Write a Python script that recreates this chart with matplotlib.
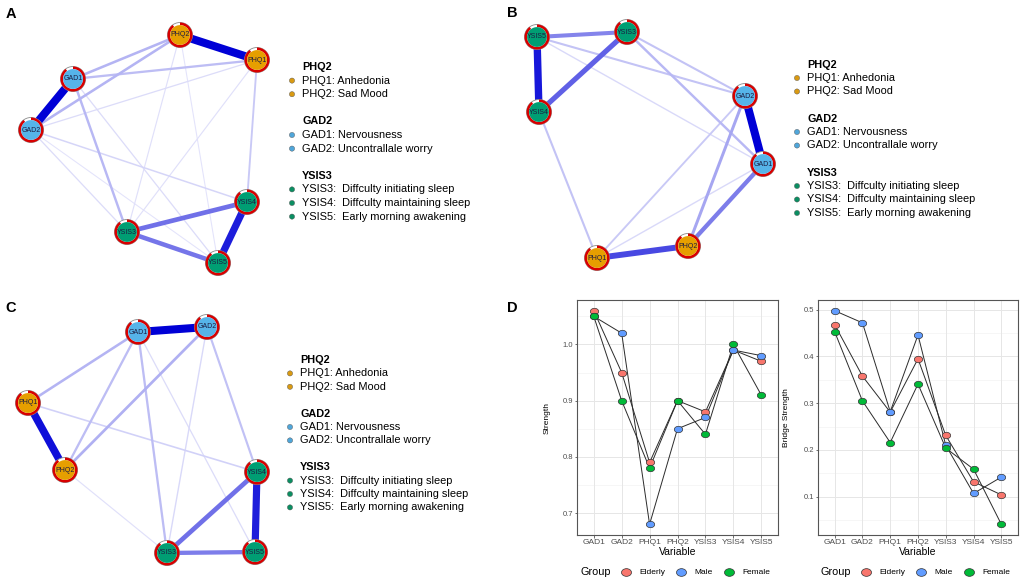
import matplotlib
matplotlib.use("Agg")
import matplotlib.pyplot as plt
from matplotlib.patches import Circle, Wedge
from matplotlib.path import Path
from matplotlib.transforms import Affine2D
import numpy as np

plt.rcParams['font.family'] = ['Liberation Sans', 'DejaVu Sans']

# ---------------- data ----------------
variables = ["GAD1", "GAD2", "PHQ1", "PHQ2", "YSIS3", "YSIS4", "YSIS5"]
groups = ["Elderly", "Male", "Female"]
group_colors = ["#F8766D", "#619CFF", "#00BA38"]

strength_elderly = [1.06, 0.95, 0.79, 0.90, 0.88, 0.99, 0.97]
strength_male = [1.05, 1.02, 0.68, 0.85, 0.87, 0.99, 0.98]
strength_female = [1.05, 0.90, 0.78, 0.90, 0.84, 1.00, 0.91]

bridge_elderly = [0.468, 0.358, 0.281, 0.395, 0.231, 0.132, 0.104]
bridge_male = [0.498, 0.472, 0.282, 0.446, 0.210, 0.107, 0.142]
bridge_female = [0.453, 0.305, 0.216, 0.341, 0.204, 0.159, 0.041]

node_group = {"PHQ1": "PHQ", "PHQ2": "PHQ", "GAD1": "GAD", "GAD2": "GAD",
              "YSIS3": "YSIS", "YSIS4": "YSIS", "YSIS5": "YSIS"}
group_fill = {"PHQ": "#E69F00", "GAD": "#56B4E9", "YSIS": "#009E73"}
group_dot = {"PHQ": "#D99A12", "GAD": "#4FA6DA", "YSIS": "#0B8E62"}
predictability = 0.9

legend_headers = ["PHQ2", "GAD2", "YSIS3"]
legend_items = [
    [("PHQ", "PHQ1: Anhedonia"), ("PHQ", "PHQ2: Sad Mood")],
    [("GAD", "GAD1: Nervousness"), ("GAD", "GAD2: Uncontrallale worry")],
    [("YSIS", "YSIS3:  Diffculty initiating sleep"),
     ("YSIS", "YSIS4:  Diffculty maintaining sleep"),
     ("YSIS", "YSIS5:  Early morning awakening")],
]

# network layouts (panel pixel space) and edge weights
layout_A = {"PHQ1": (257, 60), "PHQ2": (180, 35), "GAD1": (73, 79), "GAD2": (31, 130),
            "YSIS3": (127, 232), "YSIS4": (247, 202), "YSIS5": (218, 263)}
edges_A = [("PHQ1", "PHQ2", 1.0), ("GAD1", "GAD2", 1.0), ("YSIS4", "YSIS5", 0.9),
           ("YSIS3", "YSIS4", 0.6), ("YSIS3", "YSIS5", 0.58), ("GAD1", "PHQ2", 0.32),
           ("GAD2", "PHQ2", 0.32), ("GAD1", "PHQ1", 0.28), ("GAD2", "PHQ1", 0.12),
           ("GAD1", "YSIS3", 0.3), ("GAD1", "YSIS5", 0.12), ("GAD2", "YSIS4", 0.16),
           ("GAD2", "YSIS3", 0.12), ("GAD2", "YSIS5", 0.08), ("PHQ2", "YSIS3", 0.1),
           ("PHQ2", "YSIS5", 0.08), ("PHQ1", "YSIS4", 0.22), ("PHQ1", "YSIS3", 0.1)]

layout_B = {"YSIS5": (537, 37), "YSIS3": (627, 32), "YSIS4": (539, 112), "GAD2": (745, 96),
            "GAD1": (763, 164), "PHQ1": (597, 258), "PHQ2": (688, 246)}
edges_B = [("YSIS5", "YSIS4", 0.92), ("YSIS4", "YSIS3", 0.66), ("YSIS5", "YSIS3", 0.52),
           ("GAD2", "GAD1", 1.0), ("PHQ1", "PHQ2", 0.75), ("PHQ2", "GAD1", 0.55),
           ("PHQ2", "GAD2", 0.38), ("YSIS3", "GAD1", 0.3), ("YSIS3", "GAD2", 0.25),
           ("YSIS5", "GAD2", 0.25), ("YSIS5", "GAD1", 0.14), ("YSIS4", "PHQ1", 0.25),
           ("PHQ1", "GAD2", 0.22), ("PHQ1", "GAD1", 0.14)]

layout_C = {"GAD1": (138, 332), "GAD2": (207, 327), "PHQ1": (28, 403), "PHQ2": (65, 470),
            "YSIS4": (257, 472), "YSIS3": (167, 553), "YSIS5": (255, 552)}
edges_C = [("GAD1", "GAD2", 1.0), ("PHQ1", "PHQ2", 0.95), ("YSIS4", "YSIS5", 0.9),
           ("YSIS3", "YSIS4", 0.6), ("YSIS3", "YSIS5", 0.55), ("GAD1", "PHQ1", 0.32),
           ("GAD2", "PHQ2", 0.34), ("GAD1", "PHQ2", 0.28), ("GAD1", "YSIS3", 0.28),
           ("GAD2", "YSIS4", 0.26), ("GAD2", "YSIS3", 0.14), ("GAD1", "YSIS5", 0.12),
           ("PHQ1", "YSIS4", 0.18), ("PHQ2", "YSIS3", 0.1)]

# ---------------- figure ----------------
W, H = 1021, 587
fig = plt.figure(figsize=(W / 100, H / 100), dpi=100)
ov = fig.add_axes([0, 0, 1, 1])
ov.set_xlim(0, W)
ov.set_ylim(H, 0)
ov.axis('off')

BLUE = np.array([0.0, 0.0, 0.84])
WHITE = np.array([1.0, 1.0, 1.0])


def edge_style(w):
    a = 0.07 + 0.93 * w ** 1.25
    col = (1 - a) * WHITE + a * BLUE
    lw = 0.5 + 5.3 * w ** 1.2
    return tuple(col), lw


def draw_network(layout, edges):
    for n1, n2, w in sorted(edges, key=lambda e: e[2]):
        (x1, y1), (x2, y2) = layout[n1], layout[n2]
        col, lw = edge_style(w)
        ov.plot([x1, x2], [y1, y2], color=col, lw=lw, solid_capstyle='butt', zorder=1 + w)
    r = 12.5
    for name, (x, y) in layout.items():
        ov.add_patch(Circle((x, y), r, fc='white', ec='#8a8a8a', lw=0.6, zorder=5))
        ov.add_patch(Wedge((x, y), r, -90, -90 + predictability * 360, width=2.6,
                           fc='#D80000', ec='none', zorder=6))
        ov.add_patch(Circle((x, y), r - 2.6, fc=group_fill[node_group[name]], ec='none', zorder=7))
        ov.text(x, y, name, fontsize=5, color='#1b1b40', ha='center', va='center', zorder=8)


def draw_legend(xdot, y0, step):
    y = y0
    for hdr, items in zip(legend_headers, legend_items):
        ov.text(xdot + 10, y, hdr, fontsize=7.8, fontweight='bold', ha='left', va='center',
                color='black')
        y += step
        for g, txt in items:
            ov.add_patch(Circle((xdot, y), 2.6, fc=group_dot[g], ec='#555555', lw=0.3))
            ov.text(xdot + 10, y, txt, fontsize=7.9, ha='left', va='center', color='black')
            y += step
        y += step


draw_network(layout_A, edges_A)
draw_network(layout_B, edges_B)
draw_network(layout_C, edges_C)
draw_legend(292, 67, 13.6)
draw_legend(797, 64.5, 13.5)
draw_legend(290, 360, 13.4)

for lab, (x, y) in zip("ABCD", [(10.5, 14.5), (512.5, 13), (10.5, 308), (512.5, 308)]):
    ov.text(x, y, lab, fontsize=10.5, fontweight='bold', ha='center', va='center')

# ellipse marker (image is slightly stretched horizontally)
ell = Path.unit_circle().transformed(Affine2D().scale(1.3, 1.0))


def ggpanel(rect, series, ylabel, yticks, minor, ylab_x):
    ax = fig.add_axes(rect)
    x = np.arange(len(variables))
    allv = np.concatenate([np.asarray(s) for s in series])
    lo, hi = allv.min(), allv.max()
    pad = 0.05 * (hi - lo)
    ax.set_ylim(lo - pad, hi + pad)
    ax.set_xlim(-0.6, len(variables) - 0.4)
    for yv in minor:
        ax.axhline(yv, color='#F0F0F0', lw=0.4, zorder=0)
    for yv in yticks:
        ax.axhline(yv, color='#E6E6E6', lw=0.7, zorder=0)
    for xv in x:
        ax.axvline(xv, color='#E6E6E6', lw=0.7, zorder=0)
    for s in series:
        ax.plot(x, s, color='#2b2b2b', lw=0.7, zorder=2)
    for s, c in zip(series, group_colors):
        ax.plot(x, s, ls='none', marker=ell, ms=6, mfc=c, mec='#333333', mew=0.5, zorder=3)
    ax.set_xticks(x)
    ax.set_xticklabels(variables, fontsize=6, color='#4D4D4D')
    ax.set_yticks(yticks)
    ax.set_yticklabels([f"{v:.1f}" for v in yticks], fontsize=5.5, color='#4D4D4D')
    ax.tick_params(length=1.8, width=0.5, color='#333333', pad=1)
    for sp in ax.spines.values():
        sp.set_color('#555555')
        sp.set_linewidth(0.8)
    ax.set_xlabel("Variable", fontsize=7.5)
    ax.xaxis.set_label_coords(0.5, -0.05)
    ax.set_ylabel(ylabel, fontsize=6)
    ax.yaxis.set_label_coords(ylab_x, 0.5)
    return ax


ax1 = ggpanel([577 / W, 52 / H, 201 / W, 235 / H],
              [strength_elderly, strength_male, strength_female], "Strength",
              [0.7, 0.8, 0.9, 1.0], [0.75, 0.85, 0.95, 1.05], -0.13)
ax2 = ggpanel([818 / W, 52 / H, 200 / W, 235 / H],
              [bridge_elderly, bridge_male, bridge_female], "Bridge Strength",
              [0.1, 0.2, 0.3, 0.4, 0.5], [0.05, 0.15, 0.25, 0.35, 0.45], -0.14)

# legends for panel D
for x0 in (580, 820):
    ov.text(x0, 572, "Group", fontsize=7.8, ha='left', va='center')
    for dx_m, dx_t, g, c in zip([46, 101, 149], [59, 114, 162], groups, group_colors):
        ov.plot([x0 + dx_m], [572], ls='none', marker=ell, ms=7.2, mfc=c, mec='#333333', mew=0.5)
        ov.text(x0 + dx_t, 572, g, fontsize=6, ha='left', va='center')

fig.savefig("out.png", dpi=100)
